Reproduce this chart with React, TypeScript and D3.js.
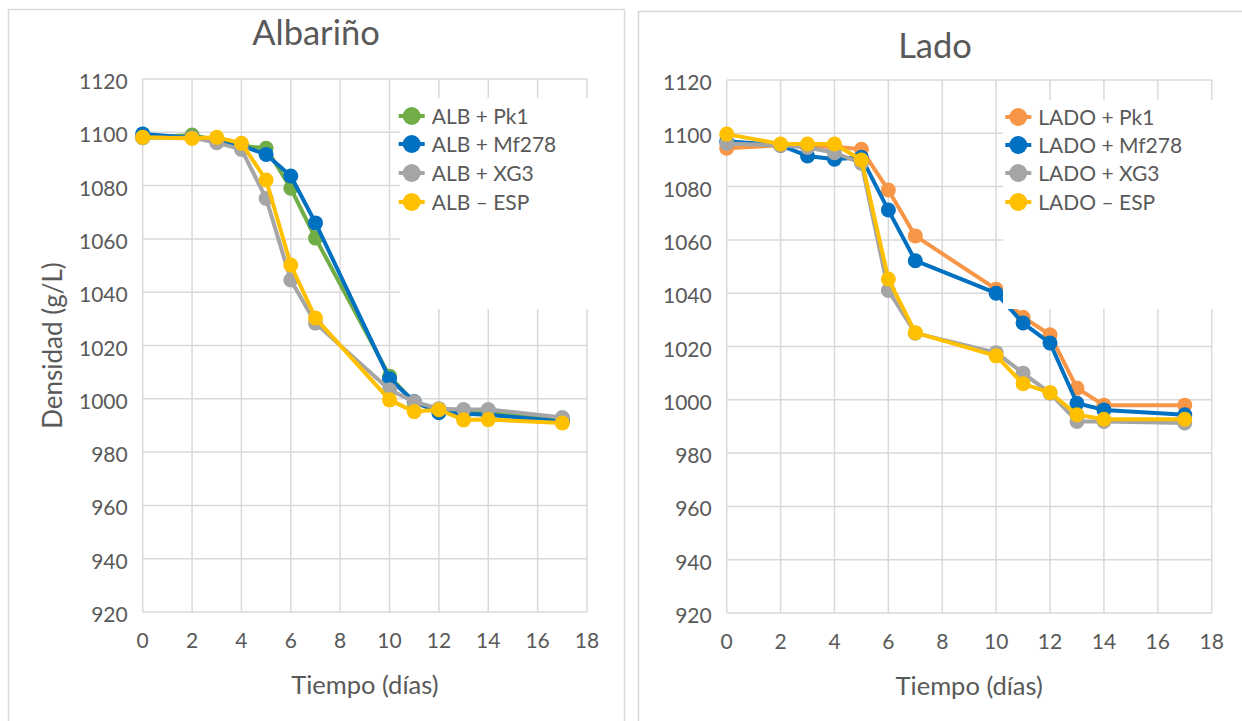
import React from "react";
import * as d3 from "d3";

// Sampling days (x values) shared by every series
const days = [0, 2, 3, 4, 5, 6, 7, 10, 11, 12, 13, 14, 17];

// Albariño fermentations – density (g/L)
const albPk1 = [1098, 1099, 1097, 1095, 1094, 1079, 1060.3, 1008.5, 998.5, 995.5, 995, 995, 992];
const albMf278 = [1099.4, 1098, 1097, 1095, 1091.7, 1083.6, 1066, 1007.5, 999, 994.8, 994.4, 994, 991.5];
const albXG3 = [1098, 1098, 1096.1, 1093.6, 1075.2, 1044.6, 1028.4, 1003.4, 998.9, 996.3, 996, 996, 993];
const albESP = [1098.1, 1097.7, 1098.1, 1095.9, 1082.1, 1050.2, 1030.3, 999.6, 995.2, 995.9, 992.1, 992.2, 990.9];

// Lado fermentations – density (g/L)
const ladoPk1 = [1094.4, 1095.5, 1095, 1095, 1094, 1078.7, 1061.5, 1041.5, 1031, 1024.4, 1004.4, 998, 998];
const ladoMf278 = [1097, 1095.5, 1091.5, 1090.3, 1091, 1071.2, 1052.2, 1040, 1028.8, 1021.3, 998.7, 996.2, 994.4];
const ladoXG3 = [1096.2, 1095.5, 1094.7, 1092.7, 1088.8, 1041, 1025, 1017.7, 1010, 1002.5, 991.9, 991.9, 991.3];
const ladoESP = [1099.7, 1096, 1096, 1096, 1090, 1045.3, 1025.2, 1016.5, 1006, 1002.7, 994.4, 992.7, 992.7];

const albNames = ["ALB + Pk1", "ALB + Mf278", "ALB + XG3", "ALB \u2013 ESP"];
const ladoNames = ["LADO + Pk1", "LADO + Mf278", "LADO + XG3", "LADO \u2013 ESP"];

const albColors = ["#70AD47", "#0070C0", "#A5A5A5", "#FFC000"];
const ladoColors = ["#F79646", "#0070C0", "#A5A5A5", "#FFC000"];

const xTicks = [0, 2, 4, 6, 8, 10, 12, 14, 16, 18];
const yTicks = [920, 940, 960, 980, 1000, 1020, 1040, 1060, 1080, 1100, 1120];

const FONT = "Lato, 'Open Sans', sans-serif";
const TEXT = "#595959";
const GRID = "#D9D9D9";

type PanelProps = {
  title: string;
  titleX: number;
  titleY: number;
  names: string[];
  colors: string[];
  values: number[][];
  x0: number;
  x1: number;
  y0: number;
  y1: number;
  legendBox: [number, number, number, number];
  legendX: number;
  legendRows: number[];
  yTitle?: string;
};

function Panel(p: PanelProps) {
  const x = d3.scaleLinear().domain([0, 18]).range([p.x0, p.x1]);
  const y = d3.scaleLinear().domain([920, 1120]).range([p.y1, p.y0]);
  const line = d3
    .line<[number, number]>()
    .x((d) => x(d[0]))
    .y((d) => y(d[1]));
  const cx = (p.x0 + p.x1) / 2;
  const cy = (p.y0 + p.y1) / 2;
  return (
    <g>
      <text x={p.titleX} y={p.titleY} textAnchor="middle" fontSize={34.5} fill={TEXT} fontFamily={FONT}>
        {p.title}
      </text>
      {xTicks.map((t) => (
        <line key={"vx" + t} x1={x(t)} x2={x(t)} y1={p.y0} y2={p.y1} stroke={GRID} strokeWidth={1.5} />
      ))}
      {yTicks.map((t) => (
        <line key={"hy" + t} x1={p.x0} x2={p.x1} y1={y(t)} y2={y(t)} stroke={GRID} strokeWidth={1.5} />
      ))}
      {yTicks.map((t) => (
        <text key={"yl" + t} x={p.x0 - 15} y={y(t) + 10} textAnchor="end" fontSize={21} fill={TEXT} fontFamily={FONT}>
          {t}
        </text>
      ))}
      {xTicks.map((t) => (
        <text key={"xl" + t} x={x(t)} y={p.y1 + 36} textAnchor="middle" fontSize={21} fill={TEXT} fontFamily={FONT}>
          {t}
        </text>
      ))}
      <text x={cx} y={p.y1 + 82} textAnchor="middle" fontSize={25.5} fill={TEXT} fontFamily={FONT}>
        Tiempo (días)
      </text>
      {p.yTitle && (
        <text
          transform={`translate(${p.x0 - 81},${cy}) rotate(-90)`}
          textAnchor="middle"
          fontSize={26}
          fill={TEXT}
          fontFamily={FONT}
        >
          {p.yTitle}
        </text>
      )}
      {p.values.map((vals, i) => {
        const pts = days.map((d, j) => [d, vals[j]] as [number, number]);
        return (
          <g key={"s" + i}>
            <path d={line(pts) || ""} fill="none" stroke={p.colors[i]} strokeWidth={4} strokeLinejoin="round" />
            {pts.map((pt, j) => (
              <circle key={j} cx={x(pt[0])} cy={y(pt[1])} r={7.5} fill={p.colors[i]} />
            ))}
          </g>
        );
      })}
      <rect
        x={p.legendBox[0]}
        y={p.legendBox[1]}
        width={p.legendBox[2]}
        height={p.legendBox[3]}
        fill="#FFFFFF"
      />
      {p.names.map((n, i) => (
        <g key={"lg" + i}>
          <line
            x1={p.legendX - 13}
            x2={p.legendX + 13}
            y1={p.legendRows[i]}
            y2={p.legendRows[i]}
            stroke={p.colors[i]}
            strokeWidth={4}
          />
          <circle cx={p.legendX} cy={p.legendRows[i]} r={9} fill={p.colors[i]} />
          <text x={p.legendX + 20} y={p.legendRows[i] + 8} fontSize={21} fill={TEXT} fontFamily={FONT}>
            {n}
          </text>
        </g>
      ))}
    </g>
  );
}

export default function App() {
  return (
    <svg width={1242} height={721} style={{ position: "absolute", left: 0, top: 0, background: "#fff" }}>
      <rect x={0} y={0} width={1242} height={721} fill="#FFFFFF" />
      <rect x={8.5} y={9.5} width={616} height={730} fill="none" stroke={GRID} strokeWidth={1.5} />
      <rect x={638.5} y={11.5} width={620} height={730} fill="none" stroke={GRID} strokeWidth={1.5} />
      <Panel
        title="Albariño"
        titleX={316}
        titleY={45}
        names={albNames}
        colors={albColors}
        values={[albPk1, albMf278, albXG3, albESP]}
        x0={142.7}
        x1={587}
        y0={79}
        y1={612}
        legendBox={[400, 98, 190, 211]}
        legendX={411.7}
        legendRows={[116, 144, 173, 202]}
        yTitle="Densidad (g/L)"
      />
      <Panel
        title="Lado"
        titleX={935}
        titleY={58}
        names={ladoNames}
        colors={ladoColors}
        values={[ladoPk1, ladoMf278, ladoXG3, ladoESP]}
        x0={726.7}
        x1={1211.7}
        y0={80}
        y1={613}
        legendBox={[1003, 100, 215, 209]}
        legendX={1018.3}
        legendRows={[117, 145, 173, 202]}
      />
    </svg>
  );
}
